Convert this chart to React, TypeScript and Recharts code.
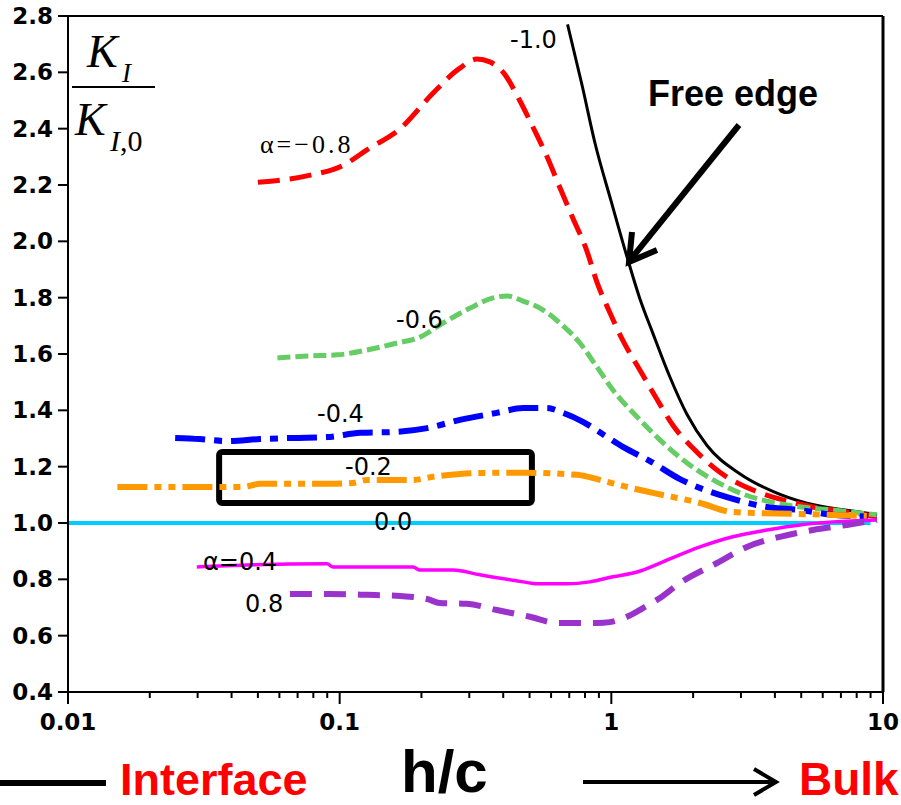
import React from 'react';
import { LineChart, Line, XAxis, YAxis, ReferenceLine, ReferenceArea } from 'recharts';

// h/c tick positions on the log axis
const xTicks = [
  0.01, 0.02, 0.03, 0.04, 0.05, 0.06, 0.07, 0.08, 0.09,
  0.1, 0.2, 0.3, 0.4, 0.5, 0.6, 0.7, 0.8, 0.9,
  1, 2, 3, 4, 5, 6, 7, 8, 9, 10,
];
const xMajor = [0.01, 0.1, 1, 10];
const yTicks = [0.4, 0.6, 0.8, 1.0, 1.2, 1.4, 1.6, 1.8, 2.0, 2.2, 2.4, 2.6, 2.8];

// K_I / K_I,0 curves
const alphaM10 = [
  { x: 0.69, y: 2.77 }, { x: 0.78, y: 2.555 }, { x: 0.87, y: 2.35 }, { x: 1.0, y: 2.14 },
  { x: 1.15, y: 1.935 }, { x: 1.27, y: 1.8 }, { x: 1.42, y: 1.675 }, { x: 1.64, y: 1.52 },
  { x: 1.9, y: 1.385 }, { x: 2.25, y: 1.275 }, { x: 2.97, y: 1.175 }, { x: 3.93, y: 1.112 },
  { x: 5.25, y: 1.07 }, { x: 7.36, y: 1.045 }, { x: 9.5, y: 1.03 },
];
const alphaM08 = [
  { x: 0.05, y: 2.21 }, { x: 0.078, y: 2.235 }, { x: 0.103, y: 2.27 }, { x: 0.126, y: 2.325 },
  { x: 0.167, y: 2.4 }, { x: 0.22, y: 2.525 }, { x: 0.277, y: 2.615 }, { x: 0.32, y: 2.647 },
  { x: 0.357, y: 2.637 }, { x: 0.4, y: 2.6 }, { x: 0.46, y: 2.5 }, { x: 0.515, y: 2.405 },
  { x: 0.58, y: 2.3 }, { x: 0.647, y: 2.19 }, { x: 0.72, y: 2.085 }, { x: 0.81, y: 1.97 },
  { x: 0.885, y: 1.855 }, { x: 0.99, y: 1.745 }, { x: 1.1, y: 1.65 }, { x: 1.27, y: 1.545 },
  { x: 1.47, y: 1.44 }, { x: 1.69, y: 1.345 }, { x: 2.0, y: 1.265 }, { x: 2.51, y: 1.18 },
  { x: 3.32, y: 1.117 }, { x: 4.28, y: 1.082 }, { x: 5.52, y: 1.057 }, { x: 7.75, y: 1.036 },
  { x: 9.5, y: 1.022 },
];
const alphaM06 = [
  { x: 0.059, y: 1.586 }, { x: 0.076, y: 1.593 }, { x: 0.098, y: 1.597 }, { x: 0.126, y: 1.614 },
  { x: 0.1625, y: 1.639 }, { x: 0.1975, y: 1.66 }, { x: 0.24, y: 1.71 }, { x: 0.302, y: 1.763 },
  { x: 0.367, y: 1.799 }, { x: 0.413, y: 1.806 }, { x: 0.473, y: 1.788 }, { x: 0.546, y: 1.763 },
  { x: 0.647, y: 1.71 }, { x: 0.766, y: 1.639 }, { x: 0.885, y: 1.554 }, { x: 1.014, y: 1.472 },
  { x: 1.243, y: 1.377 }, { x: 1.51, y: 1.295 }, { x: 1.9, y: 1.213 }, { x: 2.37, y: 1.153 },
  { x: 2.97, y: 1.107 }, { x: 4.43, y: 1.064 }, { x: 6.54, y: 1.046 }, { x: 9.5, y: 1.029 },
];
const alphaM04 = [
  { x: 0.0248, y: 1.302 }, { x: 0.0306, y: 1.298 }, { x: 0.0385, y: 1.291 }, { x: 0.0509, y: 1.298 },
  { x: 0.0673, y: 1.302 }, { x: 0.0898, y: 1.305 }, { x: 0.119, y: 1.32 }, { x: 0.157, y: 1.323 },
  { x: 0.21, y: 1.337 }, { x: 0.277, y: 1.366 }, { x: 0.379, y: 1.391 }, { x: 0.473, y: 1.408 },
  { x: 0.579, y: 1.408 }, { x: 0.664, y: 1.391 }, { x: 0.786, y: 1.359 }, { x: 0.963, y: 1.306 },
  { x: 1.103, y: 1.27 }, { x: 1.388, y: 1.22 }, { x: 1.789, y: 1.156 }, { x: 2.12, y: 1.124 },
  { x: 2.665, y: 1.092 }, { x: 3.74, y: 1.057 }, { x: 4.94, y: 1.046 }, { x: 6.54, y: 1.029 },
  { x: 9.5, y: 1.022 },
];
const alphaM02 = [
  { x: 0.0152, y: 1.128 }, { x: 0.0218, y: 1.128 }, { x: 0.0333, y: 1.128 }, { x: 0.0441, y: 1.128 },
  { x: 0.0509, y: 1.139 }, { x: 0.0898, y: 1.139 }, { x: 0.112, y: 1.142 }, { x: 0.126, y: 1.153 },
  { x: 0.186, y: 1.153 }, { x: 0.2205, y: 1.164 }, { x: 0.277, y: 1.174 }, { x: 0.367, y: 1.178 },
  { x: 0.489, y: 1.178 }, { x: 0.747, y: 1.171 }, { x: 0.908, y: 1.153 }, { x: 1.141, y: 1.128 },
  { x: 1.423, y: 1.107 }, { x: 2.12, y: 1.071 }, { x: 2.8, y: 1.039 }, { x: 4.94, y: 1.032 },
  { x: 8.72, y: 1.025 },
];
const alpha00 = [{ x: 0.01, y: 1.0 }, { x: 9.0, y: 1.0 }];
const alphaP04 = [
  { x: 0.0298, y: 0.844 }, { x: 0.0456, y: 0.851 }, { x: 0.0898, y: 0.855 }, { x: 0.0945, y: 0.844 },
  { x: 0.186, y: 0.844 }, { x: 0.1975, y: 0.833 }, { x: 0.261, y: 0.833 }, { x: 0.3285, y: 0.816 },
  { x: 0.473, y: 0.791 }, { x: 0.532, y: 0.784 }, { x: 0.686, y: 0.784 }, { x: 0.834, y: 0.791 },
  { x: 1.014, y: 0.809 }, { x: 1.243, y: 0.826 }, { x: 1.548, y: 0.862 }, { x: 2.12, y: 0.915 },
  { x: 2.8, y: 0.951 }, { x: 3.74, y: 0.975 }, { x: 4.94, y: 0.993 }, { x: 6.54, y: 1.004 },
  { x: 9.5, y: 1.011 },
];
const alphaP08 = [
  { x: 0.0656, y: 0.748 }, { x: 0.0921, y: 0.748 }, { x: 0.126, y: 0.745 }, { x: 0.1667, y: 0.741 },
  { x: 0.21, y: 0.73 }, { x: 0.234, y: 0.716 }, { x: 0.294, y: 0.713 }, { x: 0.379, y: 0.691 },
  { x: 0.502, y: 0.667 }, { x: 0.631, y: 0.645 }, { x: 0.885, y: 0.645 }, { x: 0.988, y: 0.648 },
  { x: 1.141, y: 0.667 }, { x: 1.307, y: 0.698 }, { x: 1.51, y: 0.734 }, { x: 1.789, y: 0.787 },
  { x: 2.447, y: 0.858 }, { x: 3.155, y: 0.915 }, { x: 4.17, y: 0.951 }, { x: 5.52, y: 0.975 },
  { x: 7.36, y: 0.993 }, { x: 9.5, y: 1.011 },
];

const tickFont = { fontFamily: 'DejaVu Sans', fontWeight: 'bold', fontSize: 23, fill: '#000' };
const labelFont = { fontFamily: 'DejaVu Sans', fontSize: 24, fill: '#000' };

const XTick = (props: any) => {
  const { x, y, payload } = props;
  const major = xMajor.includes(payload.value);
  return (
    <g>
      <line x1={x} x2={x} y1={y} y2={y + (major ? 12 : 6)} stroke="#000" strokeWidth={2} />
      {major && (
        <text x={x} y={y + 38} textAnchor="middle" {...tickFont}>
          {String(payload.value)}
        </text>
      )}
    </g>
  );
};

export default function App() {
  return (
    <div style={{ position: 'absolute', left: 0, top: 0, width: 901, height: 805, background: '#fff' }}>
      <LineChart width={901} height={740} margin={{ top: 16, right: 18, left: 0, bottom: 0 }}>
        <XAxis
          dataKey="x"
          type="number"
          scale="log"
          domain={[0.01, 10]}
          allowDataOverflow
          ticks={xTicks}
          interval={0}
          height={48}
          tickLine={false}
          tickSize={0}
          tickMargin={0}
          tick={<XTick />}
          axisLine={{ stroke: '#000', strokeWidth: 2 }}
        />
        <YAxis
          type="number"
          domain={[0.4, 2.8]}
          allowDataOverflow
          ticks={yTicks}
          interval={0}
          width={68}
          tickSize={10}
          tickMargin={5}
          tickFormatter={(v: number) => v.toFixed(1)}
          tick={tickFont}
          tickLine={{ stroke: '#000', strokeWidth: 2 }}
          axisLine={{ stroke: '#000', strokeWidth: 2 }}
        />
        <ReferenceLine y={2.8} stroke="#000" strokeWidth={2} />
        <ReferenceLine x={10} stroke="#000" strokeWidth={3} />
        <Line data={alphaM10} dataKey="y" type="monotone" stroke="#000" strokeWidth={3} dot={false} isAnimationActive={false} />
        <Line data={alphaM08} dataKey="y" type="monotone" stroke="#ff0000" strokeWidth={5} strokeDasharray="22 10" dot={false} isAnimationActive={false} />
        <Line data={alphaM06} dataKey="y" type="monotone" stroke="#66cc66" strokeWidth={5} strokeDasharray="13 5" dot={false} isAnimationActive={false} />
        <Line data={alphaM04} dataKey="y" type="monotone" stroke="#0000ff" strokeWidth={6} strokeDasharray="30 9 8 9" dot={false} isAnimationActive={false} />
        <Line data={alphaM02} dataKey="y" type="monotone" stroke="#ff9900" strokeWidth={6} strokeDasharray="30 7 7 7 7 7" dot={false} isAnimationActive={false} />
        <Line data={alpha00} dataKey="y" type="linear" stroke="#00ccff" strokeWidth={4} dot={false} isAnimationActive={false} />
        <Line data={alphaP04} dataKey="y" type="monotone" stroke="#ff00ff" strokeWidth={3.5} dot={false} isAnimationActive={false} />
        <Line data={alphaP08} dataKey="y" type="monotone" stroke="#9933cc" strokeWidth={6} strokeDasharray="22 12" dot={false} isAnimationActive={false} />
        <ReferenceArea
          x1={0.036}
          x2={0.51}
          y1={1.071}
          y2={1.252}
          fill="none"
          fillOpacity={0}
          stroke="#000"
          strokeWidth={6}
          radius={3}
          ifOverflow="visible"
        />
      </LineChart>

      <svg width={901} height={805} style={{ position: 'absolute', left: 0, top: 0, pointerEvents: 'none' }}>
        {/* y-axis label K_I / K_I,0 */}
        <text x={87} y={67} fontFamily="Liberation Serif" fontStyle="italic" fontSize={46}>K</text>
        <text x={122} y={82} fontFamily="Liberation Serif" fontStyle="italic" fontSize={27}>I</text>
        <line x1={72} x2={155} y1={87} y2={87} stroke="#000" strokeWidth={2} />
        <text x={75} y={135} fontFamily="Liberation Serif" fontStyle="italic" fontSize={46}>K</text>
        <text x={110} y={151} fontFamily="Liberation Serif" fontSize={30}>
          <tspan fontStyle="italic">I</tspan>,0
        </text>

        {/* curve labels */}
        <text x={510} y={48} {...labelFont}>-1.0</text>
        <text x={260} y={153} fontFamily="Liberation Serif" fontSize={26} letterSpacing={3}>α=−0.8</text>
        <text x={396} y={328} {...labelFont}>-0.6</text>
        <text x={317} y={422} {...labelFont}>-0.4</text>
        <text x={345} y={475} {...labelFont}>-0.2</text>
        <text x={374} y={530} {...labelFont}>0.0</text>
        <text x={203} y={570} {...labelFont}>α=0.4</text>
        <text x={245} y={612} {...labelFont}>0.8</text>

        {/* free edge annotation */}
        <text x={648} y={106} fontFamily="Liberation Sans" fontWeight="bold" fontSize={36}>Free edge</text>
        <line x1={739} y1={125} x2={631} y2={259} stroke="#000" strokeWidth={6} />
        <polyline points="632,232 629,262 657,250" fill="none" stroke="#000" strokeWidth={6} />

        {/* bottom caption */}
        <line x1={0} x2={106} y1={783} y2={783} stroke="#000" strokeWidth={6} />
        <text x={120} y={795} fontFamily="Liberation Sans" fontWeight="bold" fontSize={45} fill="#ff0000">Interface</text>
        <text x={401} y={792} fontFamily="Liberation Sans" fontWeight="bold" fontSize={60} fill="#000">h/c</text>
        <line x1={583} x2={775} y1={782} y2={782} stroke="#000" strokeWidth={4} />
        <polyline points="754,769 776,782 754,795" fill="none" stroke="#000" strokeWidth={4} />
        <text x={799} y={795} fontFamily="Liberation Sans" fontWeight="bold" fontSize={46} fill="#ff0000">Bulk</text>
      </svg>
    </div>
  );
}
